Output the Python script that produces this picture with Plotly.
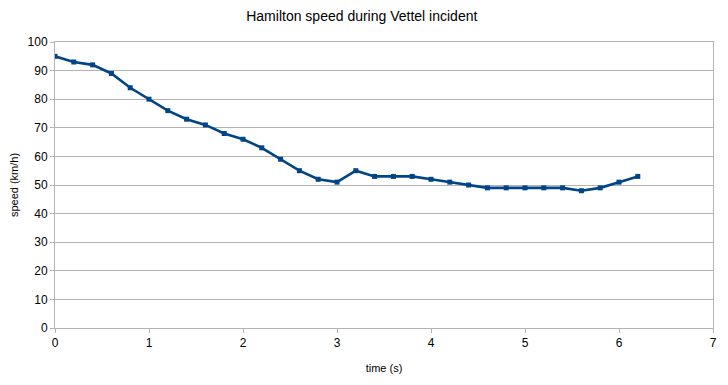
import plotly.graph_objects as go

time_s = [round(i * 0.2, 1) for i in range(32)]
speed_kmh = [95, 93, 92, 89, 84, 80, 76, 73, 71, 68, 66, 63, 59, 55, 52, 51,
             55, 53, 53, 53, 52, 51, 50, 49, 49, 49, 49, 49, 48, 49, 51, 53]

fig = go.Figure(go.Scatter(
    x=time_s, y=speed_kmh, mode="lines+markers",
    line=dict(color="#004586", width=2.6),
    marker=dict(color="#004586", size=5, symbol="square"),
))

font = "Liberation Sans, Arial, sans-serif"
fig.update_layout(
    width=728, height=385,
    margin=dict(l=47, r=23, t=34, b=65),
    paper_bgcolor="white", plot_bgcolor="white",
    showlegend=False,
    font=dict(family=font, color="black", size=12),
    title=dict(text="Hamilton speed during Vettel incident", x=0.486, xanchor="center",
               xref="container", yref="container", y=0.979, yanchor="middle",
               font=dict(size=14, family=font)),
)
fig.update_xaxes(
    range=[0, 7], dtick=1, showgrid=False, zeroline=False, automargin=False,
    showline=True, linecolor="#b3b3b3", linewidth=1, mirror=True,
    ticks="outside", ticklen=4, tickcolor="#b3b3b3",
    title=dict(text="time (s)", font=dict(size=11), standoff=14),
)
fig.update_yaxes(
    range=[0, 100], dtick=10, showgrid=True, gridcolor="#b3b3b3", gridwidth=1,
    zeroline=False, showline=True, linecolor="#b3b3b3", linewidth=1, mirror=True,
    ticks="outside", ticklen=4, tickcolor="#b3b3b3", automargin=False,
    title=dict(text="speed (km/h)", font=dict(size=11), standoff=11),
)
fig.write_html("out.html")
